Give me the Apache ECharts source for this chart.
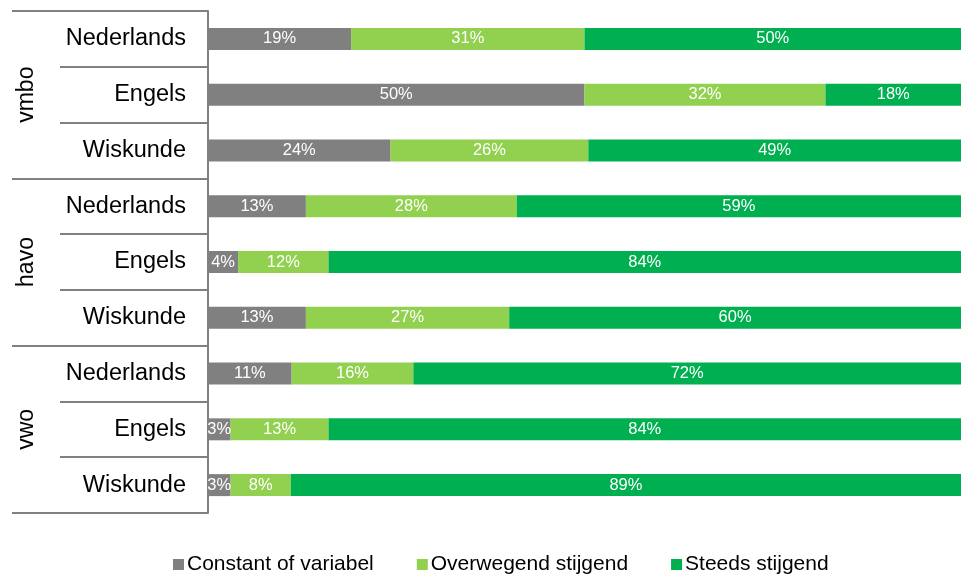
<!DOCTYPE html>
<html>
<head>
<meta charset="utf-8">
<script src="https://cdn.jsdelivr.net/npm/echarts@6/dist/echarts.min.js"></script>
<style>html,body{margin:0;padding:0;background:#fff;}#c{width:961px;height:576px;}</style>
</head>
<body>
<div id="c"></div>
<script>
const levels = ['vmbo', 'havo', 'vwo'];
const subjects = ['Nederlands', 'Engels', 'Wiskunde', 'Nederlands', 'Engels', 'Wiskunde', 'Nederlands', 'Engels', 'Wiskunde'];
const seriesNames = ['Constant of variabel', 'Overwegend stijgend', 'Steeds stijgend'];
const constant = [19, 50, 24, 13, 4, 13, 11, 3, 3];
const overwegend = [31, 32, 26, 28, 12, 27, 16, 13, 8];
const steeds = [50, 18, 49, 59, 84, 60, 72, 84, 89];
const colors = ['#808080', '#92D050', '#00B050'];

const raw = [constant, overwegend, steeds];
const totals = subjects.map((_, i) => constant[i] + overwegend[i] + steeds[i]);
const FONT = '"Liberation Sans", Arial, sans-serif';

const chart = echarts.init(document.getElementById('c'));
chart.setOption({
  animation: false,
  textStyle: { fontFamily: FONT },
  grid: { left: 208, right: 0, top: 11, bottom: 63, containLabel: false },
  xAxis: { type: 'value', min: 0, max: 100, show: false },
  yAxis: [
    {
      type: 'category', data: subjects, inverse: true, position: 'left',
      axisLine: { show: true, lineStyle: { color: '#808080', width: 2 } },
      axisTick: { show: true, interval: 0, length: 148, lineStyle: { color: '#808080', width: 2 } },
      axisLabel: { color: '#000', fontSize: 23.5, margin: 22, fontFamily: FONT, padding: [6, 0, 0, 0] },
      splitLine: { show: false }
    },
    {
      type: 'category', data: levels, inverse: true, position: 'left', offset: 0,
      axisLine: { show: false },
      axisTick: { show: true, interval: 0, length: 196, lineStyle: { color: '#808080', width: 2 } },
      axisLabel: { color: '#000', fontSize: 23, rotate: 90, margin: 170, fontFamily: FONT },
      splitLine: { show: false }
    }
  ],
  legend: {
    left: 168, top: 549, icon: 'rect', itemWidth: 11, itemHeight: 11, itemGap: 43,
    textStyle: { color: '#000', fontSize: 21, fontFamily: FONT, padding: [0, 0, 0, -2] },
    data: seriesNames
  },
  series: seriesNames.map((name, s) => ({
    name: name, type: 'bar', stack: 'total', yAxisIndex: 0, barWidth: 22,
    itemStyle: { color: colors[s] },
    label: {
      show: true, position: 'inside', color: '#fff', fontSize: 16.5, fontFamily: FONT,
      formatter: p => raw[s][p.dataIndex] + '%'
    },
    data: raw[s].map((v, i) => v / totals[i] * 100)
  }))
});
</script>
</body>
</html>
